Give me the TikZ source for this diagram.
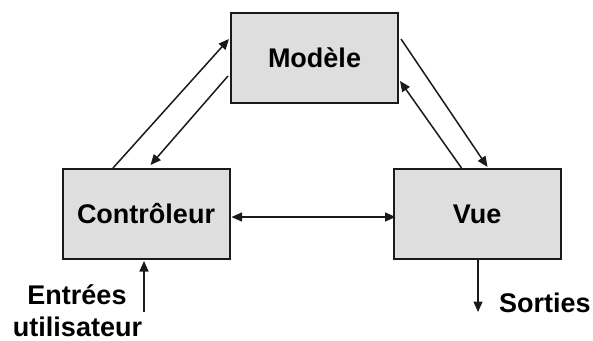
\documentclass[tikz,border=0pt]{standalone}
\usepackage{fontspec}
\setmainfont{Liberation Sans}
\usetikzlibrary{calc,arrows.meta}
\definecolor{boxfill}{HTML}{DEDEDE}
\definecolor{ink}{HTML}{1A1A1A}
\tikzset{
  mvcbox/.style={draw=ink, line width=2pt, fill=boxfill,
    minimum width=167pt, minimum height=90pt, inner sep=0pt,
    font=\bfseries\fontsize{27}{32}\selectfont},
  flow/.style={draw=ink, line width=1.5pt,
    -{Triangle[length=10.5pt,width=9pt]}},
  both/.style={draw=ink, line width=1.5pt,
    {Triangle[length=10.5pt,width=9pt]}-{Triangle[length=10.5pt,width=9pt]}},
  lbl/.style={font=\bfseries\fontsize{27}{32}\selectfont, inner sep=0pt}
}
\begin{document}
\begin{tikzpicture}[x=1pt,y=-1pt]
  \useasboundingbox (0,0) rectangle (593,340);

  % the three components
  \node[mvcbox] (m) at (314.5,58) {Modèle};
  \node[mvcbox] (c) at (146,214) {Contrôleur};
  \node[mvcbox] (v) at (477,214) {Vue};

  % controller <-> model
  \draw[flow] ($(c.north west)+(51.5,0)$) -- ($(m.north west)+(-1,27)$);
  \draw[flow] ($(m.north west)+(-2,64)$) -- ($(c.north west)+(89,-3)$);

  % model <-> view
  \draw[flow] ($(m.north east)+(2,27)$) -- ($(v.north west)+(95,-1)$);
  \draw[flow] ($(v.north west)+(69,0)$) -- ($(m.north east)+(1,69)$);

  % controller <-> view
  \draw[both] ($(c.east)+(1,3)$) -- ($(v.west)+(3,3)$);

  % user input and output
  \coordinate (inp) at (144,312);
  \coordinate (outp) at (478,312);
  \draw[flow] (inp) -- ($(c.south)+(-2,1)$);
  \draw[flow] ($(v.south)+(1,0)$) -- (outp);

  \node[lbl, anchor=base] (in1) at (77,304) {Entrées};
  \node[lbl, anchor=base] (in2) at (77.5,336.5) {utilisateur};
  \node[lbl, anchor=base west] (out) at (499,312) {Sorties};
\end{tikzpicture}
\end{document}
